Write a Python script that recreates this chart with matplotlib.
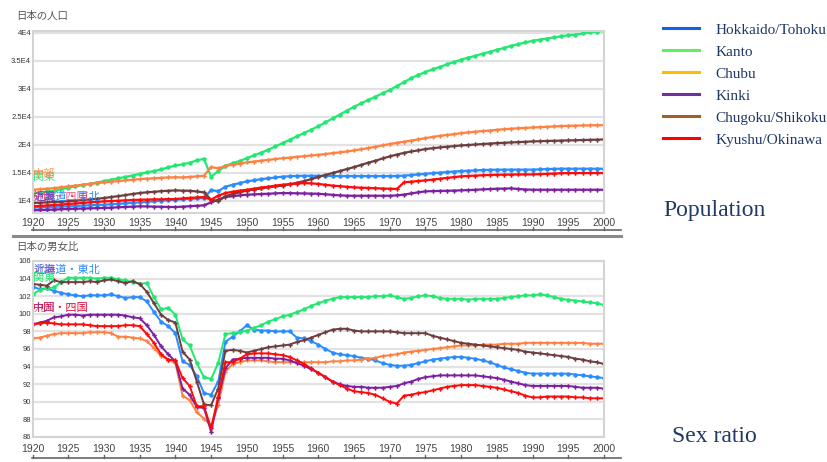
import matplotlib
matplotlib.use("Agg")
import matplotlib.pyplot as plt
from matplotlib.lines import Line2D

plt.rcParams['font.family'] = ['Noto Sans CJK JP', 'DejaVu Sans']

years = list(range(1920, 2001))

# ---- population (thousands) ----
pop_hokkaido = [8750, 8800, 8850, 8900, 8950, 9000, 9060, 9120, 9180, 9230,
                9290, 9370, 9450, 9540, 9620, 9700, 9800, 9900, 10000, 10100,
                10180, 10250, 10330, 10400, 10480, 11900, 11700, 12500, 12850, 13150,
                13450, 13650, 13850, 14000, 14150, 14300, 14380, 14420, 14450, 14450,
                14450, 14430, 14420, 14400, 14400, 14400, 14400, 14400, 14400, 14400,
                14400, 14420, 14480, 14580, 14700, 14820, 14920, 15020, 15120, 15220,
                15300, 15360, 15420, 15480, 15520, 15540, 15550, 15550, 15550, 15550,
                15560, 15600, 15650, 15700, 15720, 15720, 15720, 15720, 15720, 15720, 15720]
pop_kanto = [11250, 11450, 11650, 11800, 12050, 12300, 12550, 12800, 13000, 13250,
             13500, 13750, 14000, 14250, 14500, 14800, 15050, 15300, 15600, 15950,
             16300, 16500, 16800, 17200, 17500, 14300, 15300, 16200, 16700, 17100,
             17600, 18100, 18600, 19100, 19700, 20300, 20900, 21500, 22100, 22700,
             23300, 24000, 24700, 25400, 26100, 26800, 27400, 28000, 28600, 29200,
             29800, 30500, 31200, 31900, 32500, 33000, 33500, 33900, 34400, 34800,
             35200, 35600, 35900, 36300, 36600, 37000, 37300, 37700, 38000, 38300,
             38600, 38800, 39000, 39200, 39400, 39600, 39700, 39900, 40100, 40250, 40400]
pop_chubu = [11950, 12050, 12150, 12250, 12400, 12550, 12700, 12850, 13000, 13150,
             13270, 13400, 13500, 13650, 13750, 13870, 13950, 14000, 14100, 14150,
             14200, 14150, 14250, 14350, 14450, 16000, 15800, 16200, 16450, 16650,
             16850, 17000, 17150, 17300, 17450, 17600, 17700, 17850, 17950, 18100,
             18200, 18350, 18500, 18650, 18800, 18990, 19200, 19400, 19650, 19900,
             20120, 20350, 20550, 20750, 20950, 21190, 21400, 21600, 21750, 21900,
             22080, 22200, 22350, 22450, 22550, 22680, 22780, 22880, 22950, 23020,
             23090, 23150, 23220, 23280, 23340, 23390, 23420, 23450, 23480, 23500, 23510]
pop_kinki = [8270, 8320, 8370, 8420, 8470, 8520, 8560, 8600, 8630, 8670,
             8700, 8760, 8820, 8880, 8940, 8990, 8970, 8950, 8920, 8890,
             8870, 8940, 9020, 9100, 9170, 9700, 10200, 10660, 10800, 10950,
             11070, 11130, 11190, 11250, 11310, 11370, 11350, 11320, 11300, 11270,
             11250, 11150, 11050, 10950, 10900, 10890, 10890, 10890, 10890, 10890,
             10890, 10950, 11100, 11300, 11500, 11670, 11710, 11750, 11780, 11810,
             11850, 11900, 11960, 12020, 12080, 12140, 12170, 12200, 12100, 12000,
             11960, 11960, 11960, 11960, 11960, 11960, 11960, 11960, 11960, 11960, 11960]
pop_chugoku = [9600, 9650, 9700, 9780, 9830, 9900, 10000, 10100, 10220, 10350,
               10480, 10650, 10820, 11000, 11200, 11370, 11500, 11600, 11700, 11780,
               11840, 11800, 11780, 11650, 11480, 10180, 9900, 10800, 11200, 11500,
               11800, 12000, 12200, 12400, 12550, 12700, 12950, 13200, 13500, 13850,
               14250, 14600, 14950, 15300, 15650, 16010, 16400, 16800, 17150, 17550,
               17920, 18250, 18550, 18800, 19000, 19230, 19380, 19520, 19650, 19760,
               19880, 19960, 20050, 20130, 20220, 20300, 20360, 20420, 20480, 20540,
               20600, 20640, 20680, 20720, 20750, 20780, 20810, 20850, 20880, 20920, 20950]
pop_kyushu = [8990, 9070, 9150, 9240, 9320, 9410, 9500, 9600, 9700, 9790,
              9880, 9940, 10000, 10060, 10120, 10180, 10200, 10230, 10250, 10280,
              10300, 10400, 10500, 10580, 10660, 10180, 10900, 11370, 11600, 11800,
              11960, 12150, 12350, 12500, 12700, 12860, 12950, 13050, 13160, 13100,
              13000, 12850, 12700, 12600, 12480, 12380, 12330, 12280, 12230, 12180,
              12140, 12100, 13270, 13400, 13520, 13630, 13780, 13920, 14070, 14220,
              14350, 14420, 14490, 14550, 14600, 14640, 14660, 14680, 14690, 14700,
              14700, 14750, 14800, 14860, 14910, 14940, 14940, 14950, 14950, 14950, 14950]

# ---- sex ratio (men per 100 women) ----
sr_hokkaido = [103.1, 102.8, 102.9, 102.6, 102.4, 102.2, 102.1, 102.0, 102.1, 102.1,
               102.1, 102.2, 102.0, 101.8, 101.9, 101.9, 101.4, 100.2, 99.1, 98.6,
               97.8, 94.6, 94.2, 92.9, 91.0, 90.8, 92.3, 96.8, 97.4, 98.0,
               98.7, 98.2, 98.1, 98.1, 98.0, 98.0, 98.0, 97.3, 97.2, 96.9,
               96.5, 96.0, 95.6, 95.4, 95.3, 95.2, 95.0, 94.9, 94.7, 94.4,
               94.2, 94.1, 94.1, 94.2, 94.4, 94.6, 94.8, 94.9, 95.0, 95.1,
               95.1, 95.0, 94.9, 94.7, 94.5, 94.2, 93.9, 93.7, 93.5, 93.3,
               93.2, 93.2, 93.2, 93.2, 93.2, 93.2, 93.1, 93.0, 92.9, 92.8, 92.7]
sr_kanto = [102.2, 102.7, 102.9, 103.0, 103.6, 104.1, 104.1, 104.1, 104.1, 104.0,
            104.1, 104.1, 103.9, 103.8, 103.6, 103.4, 103.5, 101.9, 100.5, 100.7,
            99.9, 97.1, 96.4, 94.4, 92.8, 92.6, 94.4, 97.7, 97.8, 97.9,
            98.1, 98.4, 98.7, 99.1, 99.4, 99.7, 99.9, 100.2, 100.5, 100.9,
            101.2, 101.5, 101.7, 101.9, 101.9, 101.9, 101.9, 101.9, 102.0, 102.0,
            102.1, 101.9, 101.7, 101.8, 102.0, 102.1, 102.0, 101.8, 101.7, 101.7,
            101.7, 101.6, 101.7, 101.7, 101.7, 101.7, 101.8, 101.9, 102.0, 102.1,
            102.1, 102.2, 102.1, 101.9, 101.7, 101.6, 101.5, 101.4, 101.3, 101.2, 101.0]
sr_chubu = [97.2, 97.3, 97.5, 97.7, 97.8, 97.8, 97.8, 97.8, 97.9, 97.9,
            97.9, 97.8, 97.4, 97.4, 97.3, 97.2, 96.9, 96.1, 95.2, 94.8,
            94.4, 90.7, 90.2, 88.8, 88.1, 87.3, 89.6, 93.4, 94.3, 94.5,
            94.7, 94.7, 94.7, 94.6, 94.5, 94.5, 94.5, 94.5, 94.5, 94.5,
            94.5, 94.5, 94.6, 94.6, 94.7, 94.7, 94.8, 94.9, 95.0, 95.2,
            95.3, 95.4, 95.6, 95.7, 95.8, 95.9, 96.0, 96.1, 96.2, 96.3,
            96.4, 96.4, 96.4, 96.5, 96.5, 96.5, 96.6, 96.6, 96.6, 96.7,
            96.7, 96.7, 96.7, 96.7, 96.7, 96.7, 96.7, 96.7, 96.6, 96.6, 96.6]
sr_kinki = [98.8, 99.0, 99.2, 99.6, 99.7, 99.9, 99.9, 99.8, 99.9, 99.9,
            99.9, 99.9, 99.9, 99.8, 99.6, 99.5, 98.7, 97.6, 96.3, 95.4,
            94.6, 91.5, 90.8, 89.4, 89.3, 86.6, 90.4, 93.8, 94.8, 94.9,
            95.0, 95.0, 95.0, 95.0, 94.9, 94.9, 94.7, 94.4, 94.1, 93.7,
            93.3, 92.8, 92.3, 92.0, 91.8, 91.7, 91.7, 91.6, 91.6, 91.6,
            91.7, 91.8, 92.1, 92.3, 92.6, 92.8, 92.9, 93.0, 93.0, 93.0,
            93.0, 93.0, 93.0, 92.9, 92.8, 92.7, 92.5, 92.3, 92.1, 91.9,
            91.8, 91.8, 91.8, 91.8, 91.8, 91.8, 91.7, 91.6, 91.6, 91.6, 91.5]
sr_chugoku = [103.4, 103.3, 103.2, 103.8, 103.6, 103.6, 103.6, 103.6, 103.7, 103.6,
              103.8, 103.9, 103.7, 103.5, 103.7, 103.4, 102.5, 101.2, 99.9, 99.3,
              99.0, 95.7, 94.8, 92.3, 89.7, 89.6, 91.5, 95.8, 95.9, 95.8,
              95.6, 95.8, 96.0, 96.2, 96.3, 96.4, 96.5, 96.8, 97.0, 97.3,
              97.6, 97.9, 98.2, 98.3, 98.3, 98.1, 98.0, 98.0, 98.0, 98.0,
              98.0, 97.9, 97.8, 97.8, 97.8, 97.8, 97.5, 97.3, 97.1, 96.9,
              96.7, 96.6, 96.5, 96.4, 96.3, 96.2, 96.1, 96.0, 95.9, 95.7,
              95.6, 95.5, 95.4, 95.3, 95.2, 95.1, 94.9, 94.8, 94.6, 94.5, 94.3]
sr_kyushu = [98.8, 98.9, 99.0, 98.9, 98.8, 98.8, 98.8, 98.8, 98.7, 98.6,
             98.6, 98.6, 98.6, 98.7, 98.7, 98.6, 97.7, 96.7, 95.4, 94.8,
             94.7, 92.7, 91.8, 89.5, 89.5, 87.0, 90.6, 94.5, 94.5, 94.9,
             95.4, 95.5, 95.5, 95.5, 95.4, 95.3, 95.1, 94.7, 94.3, 93.8,
             93.3, 92.8, 92.3, 91.9, 91.5, 91.2, 91.1, 91.0, 90.8, 90.4,
             90.0, 89.8, 90.7, 90.8, 91.0, 91.1, 91.3, 91.5, 91.7, 91.8,
             91.9, 91.9, 91.9, 91.8, 91.7, 91.6, 91.4, 91.2, 91.0, 90.7,
             90.5, 90.5, 90.6, 90.6, 90.6, 90.6, 90.5, 90.5, 90.4, 90.4, 90.4]

regions = ["Hokkaido/Tohoku", "Kanto", "Chubu", "Kinki", "Chugoku/Shikoku", "Kyushu/Okinawa"]
line_colors = ['#2b8cff', '#22e872', '#ff8040', '#7d1fa0', '#6e3e3e', '#ff0a0a']
markers = ['o', 'o', 'P', 'P', 'P', 'P']
legend_colors = ['#0f62f0', '#5ef05e', '#ffbb00', '#7030a0', '#98622a', '#ff0000']

pop_series = [pop_hokkaido, pop_kanto, pop_chubu, pop_kinki, pop_chugoku, pop_kyushu]
sr_series = [sr_hokkaido, sr_kanto, sr_chubu, sr_kinki, sr_chugoku, sr_kyushu]

pop_ticks = [10000, 15000, 20000, 25000, 30000, 35000, 40000]
pop_tick_labels = ["1E4", "1.5E4", "2E4", "2.5E4", "3E4", "3.5E4", "4E4"]
sr_ticks = [86, 88, 90, 92, 94, 96, 98, 100, 102, 104, 106]
year_ticks = list(range(1920, 2001, 5))

W, H = 827, 462
fig = plt.figure(figsize=(W / 100, H / 100), dpi=100)

ax1 = fig.add_axes([32.5 / W, 1 - 213 / H, 571.5 / W, 182.3 / H])
ax2 = fig.add_axes([32.5 / W, 1 - 437 / H, 571.5 / W, 176 / H])


def style(ax, ticks, labels, pad):
    ax.set_xlim(1920, 2000)
    ax.set_yticks(ticks)
    ax.set_yticklabels(labels, fontsize=5.5, color='#333333', family='Liberation Sans')
    ax.set_xticks(year_ticks)
    ax.set_xticklabels([str(y) for y in year_ticks], fontsize=7.5, color='#444444',
                       family='Liberation Sans')
    ax.tick_params(axis='both', length=0)
    ax.tick_params(axis='y', pad=1)
    ax.tick_params(axis='x', pad=pad)
    ax.grid(axis='y', color='#e2e2e2', lw=1.6)
    ax.set_axisbelow(True)
    for sp in ax.spines.values():
        sp.set_color('#d4d4d4')
        sp.set_linewidth(1.5)


for vals, c, m in zip(pop_series, line_colors, markers):
    ax1.plot(years, vals, color=c, lw=1.6, marker=m, ms=3.2, mew=0)
for vals, c, m in zip(sr_series, line_colors, markers):
    ax2.plot(years, vals, color=c, lw=1.4, marker=m, ms=3.2, mew=0)

ax1.set_ylim(7800, 40400)
ax2.set_ylim(86, 106)
style(ax1, pop_ticks, pop_tick_labels, 3.5)
style(ax2, sr_ticks, [str(t) for t in sr_ticks], 5)

# inline region labels, overlapping as in the original
ax1.text(1920.1, 14300, "関東", color='#22e872', fontsize=8, va='center')
ax1.text(1920.1, 14800, "中部", color='#ff8040', fontsize=8, va='center', alpha=0.8)
ax1.text(1920.1, 10700, "北海道・東北", color='#2b8cff', fontsize=8, va='center')
ax1.text(1920.1, 10700, "中国・四国", color='#ff3060', fontsize=8, va='center', alpha=0.8)
ax1.text(1920.1, 10700, "近畿", color='#7d1fa0', fontsize=8, va='center', alpha=0.8)

ax2.text(1920.1, 105.0, "北海道・東北", color='#2b8cff', fontsize=8, va='center')
ax2.text(1920.1, 105.0, "近畿", color='#7d1fa0', fontsize=8, va='center', alpha=0.7)
ax2.text(1920.1, 104.1, "関東", color='#22e872', fontsize=8, va='center')
ax2.text(1920.1, 100.7, "中国・四国", color='#e0103a', fontsize=8, va='center')
ax2.text(1920.1, 100.7, "九州", color='#7d1fa0', fontsize=8, va='center', alpha=0.6)

# panel titles
fig.text(16 / W, 1 - 16 / H, "日本の人口", fontsize=7.5, color='#555555', va='center')
fig.text(16 / W, 1 - 247 / H, "日本の男女比", fontsize=7.5, color='#555555', va='center')

# rulers under each chart
for ypx in (230, 458):
    fig.add_artist(Line2D([32 / W, 621 / W], [1 - ypx / H] * 2, color='#666666', lw=1.2))
fig.add_artist(Line2D([13 / W, 621 / W], [1 - 236.5 / H] * 2, color='#8a8a8a', lw=2.2))
for ax, ypx in ((ax1, 230), (ax2, 458)):
    for yr in year_ticks:
        xf = ax.transData.transform((yr, 0))[0] / W
        fig.add_artist(Line2D([xf, xf], [1 - ypx / H, 1 - (ypx - 3) / H],
                              color='#666666', lw=1))

# legend on the right
handles = [Line2D([], [], color=c, lw=2.2) for c in legend_colors]
fig.legend(handles, regions, loc='upper left', bbox_to_anchor=(657 / W, 1 - 17 / H),
           frameon=False, handlelength=2.35, handletextpad=1.05, labelspacing=0.54,
           prop={'family': 'Liberation Serif', 'size': 11},
           labelcolor='#1f3864', borderaxespad=0)

fig.text(663 / W, 1 - 210 / H, "Population", fontsize=17, color='#1f3864',
         family='Liberation Serif', va='center')
fig.text(672 / W, 1 - 437 / H, "Sex ratio", fontsize=17, color='#1f3864',
         family='Liberation Serif', va='center')

fig.savefig("out.png", dpi=100)
